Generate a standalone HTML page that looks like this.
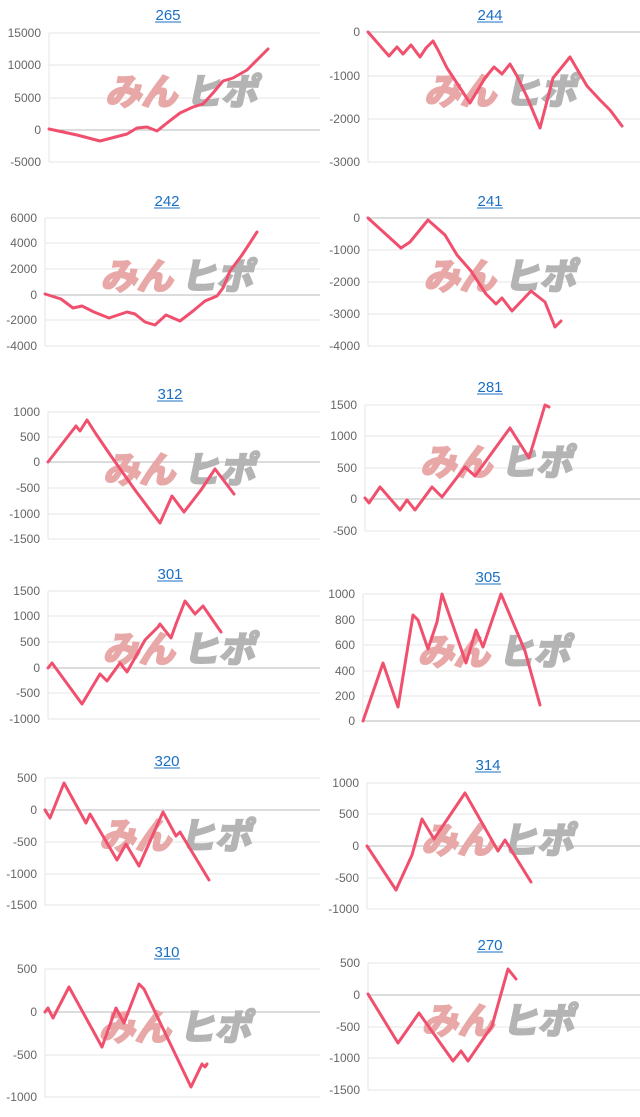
<!DOCTYPE html>
<html><head><meta charset="utf-8"><style>
html,body{margin:0;padding:0;background:#fff;width:640px;height:1117px;overflow:hidden}
svg{display:block}
</style></head><body>
<svg id="s" width="640" height="1117" xmlns="http://www.w3.org/2000/svg"></svg>
<script>
var C=[
{t:"265",tx:168,ty:14,ax:49,r:320,g:[[15000,33],[10000,65],[5000,98],[0,130],[-5000,162]],p:[[49,129],[77,135],[100,141],[127,134],[137,128],[147,127],[157,131],[167,123],[180,113],[193,107],[203,104],[213,93],[223,81],[233,78],[247,70],[268,49]]},
{t:"244",tx:490,ty:14,ax:368,r:640,g:[[0,32],[-1000,76],[-2000,119],[-3000,162]],p:[[368,32],[389,56],[397,47],[403,54],[411,45],[420,57],[426,48],[433,41],[438,50],[447,68],[470,103],[485,78],[494,67],[502,74],[510,64],[517,76],[527,97],[540,128],[553,78],[570,57],[587,86],[600,100],[610,110],[622,126]]},
{t:"242",tx:167,ty:200,ax:45,r:320,g:[[6000,218],[4000,243],[2000,269],[0,295],[-2000,320],[-4000,346]],p:[[45,294],[61,299],[73,308],[82,306],[94,312],[109,318],[127,312],[135,314],[145,322],[155,325],[166,315],[180,321],[193,311],[205,301],[217,296],[223,288],[230,271],[242,255],[257,232]]},
{t:"241",tx:490,ty:200,ax:368,r:640,g:[[0,218],[-1000,250],[-2000,282],[-3000,314],[-4000,346]],p:[[368,218],[401,248],[410,242],[428,220],[445,235],[457,255],[471,271],[486,294],[496,304],[502,298],[512,311],[531,291],[545,302],[555,327],[561,321]]},
{t:"312",tx:170,ty:393,ax:48,r:320,g:[[1000,412],[500,437],[0,462],[-500,488],[-1000,514],[-1500,539]],p:[[48,462],[76,426],[80,431],[87,420],[96,434],[111,456],[135,490],[150,510],[160,523],[172,496],[184,512],[201,490],[215,469],[234,494]]},
{t:"281",tx:490,ty:386,ax:365,r:640,g:[[1500,405],[1000,436],[500,468],[0,499],[-500,531]],p:[[365,498],[369,503],[380,487],[400,510],[407,500],[415,510],[432,487],[442,497],[465,467],[475,476],[510,428],[529,458],[545,405],[549,407]]},
{t:"301",tx:170,ty:573,ax:48,r:320,g:[[1500,591],[1000,616],[500,642],[0,668],[-500,693],[-1000,719]],p:[[48,668],[52,663],[82,704],[100,674],[107,681],[120,663],[127,672],[145,640],[158,627],[160,624],[171,638],[176,624],[185,601],[195,614],[203,606],[221,632]]},
{t:"305",tx:488,ty:576,ax:363,r:640,g:[[1000,594],[800,620],[600,645],[400,671],[200,696],[0,721]],p:[[363,721],[383,663],[398,707],[413,615],[418,620],[428,649],[437,622],[442,594],[466,663],[476,630],[483,647],[501,594],[525,651],[540,705]]},
{t:"320",tx:167,ty:760,ax:45,r:320,g:[[500,778],[0,810],[-500,842],[-1000,874],[-1500,905]],p:[[45,810],[50,818],[64,783],[86,823],[90,814],[117,860],[126,844],[139,866],[163,812],[176,836],[180,832],[209,880]]},
{t:"314",tx:488,ty:764,ax:367,r:640,g:[[1000,783],[500,814],[0,846],[-500,878],[-1000,909]],p:[[367,846],[396,890],[412,855],[422,819],[434,839],[465,793],[498,851],[505,840],[531,882]]},
{t:"310",tx:167,ty:951,ax:45,r:320,g:[[500,969],[0,1012],[-500,1055],[-1000,1097]],p:[[45,1012],[48,1008],[53,1018],[69,987],[102,1047],[116,1008],[124,1023],[139,984],[144,989],[191,1087],[202,1064],[205,1067],[207,1064]]},
{t:"270",tx:490,ty:944,ax:368,r:640,g:[[500,963],[0,995],[-500,1027],[-1000,1058],[-1500,1090]],p:[[368,994],[398,1043],[419,1013],[453,1061],[461,1051],[468,1061],[492,1026],[508,969],[516,979]]}
];
var h="";
C.forEach(function(c){
  var top=c.g[0][1],bot=c.g[c.g.length-1][1];
  c.g.forEach(function(g){
    h+='<line x1="'+c.ax+'" x2="'+c.r+'" y1="'+g[1]+'" y2="'+g[1]+'" stroke="'+(g[0]==0?"#b8b8b8":"#e4e4e4")+'" stroke-width="1"/>';
    h+='<text x="'+(c.ax-8)+'" y="'+(g[1]+4)+'" text-anchor="end" font-family="Liberation Sans,sans-serif" font-size="12" fill="#666">'+g[0]+'</text>';
  });
  h+='<line x1="'+c.ax+'" x2="'+c.ax+'" y1="'+top+'" y2="'+bot+'" stroke="#e4e4e4"/>';
  var my=(top+bot)/2, wx=c.ax+58;
  var tr=' transform="skewX(-12) translate('+(my*0.21)+',0)"';
  h+='<text x="'+wx+'" y="'+(my+7)+'" font-family="Noto Sans CJK JP,sans-serif" font-size="36" font-weight="bold" fill="#e8a8a8" stroke="#e8a8a8" stroke-width="2.5"'+tr+'>みん</text>';
  h+='<text x="'+(wx+80)+'" y="'+(my+7)+'" font-family="Noto Sans CJK JP,sans-serif" font-size="36" font-weight="bold" fill="#b4b4b4" stroke="#b4b4b4" stroke-width="2.5"'+tr+'>ヒポ</text>';
  h+='<polyline fill="none" stroke="#f0506e" stroke-width="3" stroke-linejoin="round" stroke-linecap="round" points="'+c.p.map(function(q){return q.join(",")}).join(" ")+'"/>';
  h+='<text x="'+c.tx+'" y="'+(c.ty+6)+'" text-anchor="middle" font-family="Liberation Sans,sans-serif" font-size="15" fill="#1a6fc4">'+c.t+'</text>';
  h+='<line x1="'+(c.tx-13)+'" x2="'+(c.tx+13)+'" y1="'+(c.ty+8)+'" y2="'+(c.ty+8)+'" stroke="#1a6fc4" stroke-width="1"/>';
});
document.getElementById("s").innerHTML=h;
</script>
</body></html>
